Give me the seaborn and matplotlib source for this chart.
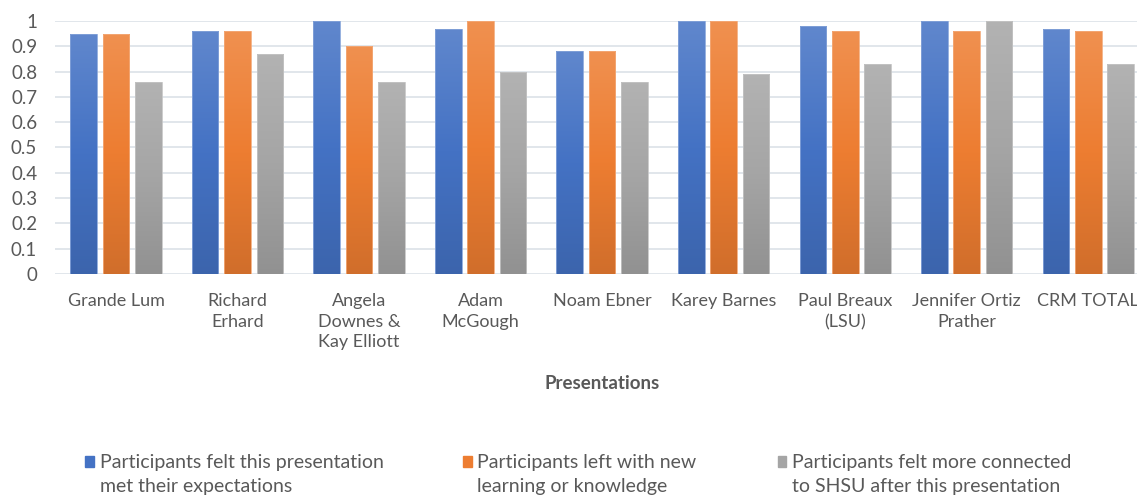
import numpy as np
import pandas as pd
import matplotlib.pyplot as plt
import matplotlib.colors as mcolors
from matplotlib.patches import Rectangle
from matplotlib.legend_handler import HandlerPatch
import seaborn as sns

# Presenters and survey share per question
presenters = ["Grande Lum", "Richard\nErhard", "Angela\nDownes &\nKay Elliott", "Adam\nMcGough",
              "Noam Ebner", "Karey Barnes", "Paul Breaux\n(LSU)", "Jennifer Ortiz\nPrather", "CRM TOTAL"]
met_expectations = [0.95, 0.96, 1.00, 0.97, 0.88, 1.00, 0.98, 1.00, 0.97]
new_learning = [0.95, 0.96, 0.90, 1.00, 0.88, 1.00, 0.96, 0.96, 0.96]
more_connected = [0.76, 0.87, 0.76, 0.80, 0.76, 0.79, 0.83, 1.00, 0.83]
series_names = ["Participants felt this presentation\nmet their expectations",
                "Participants left with new\nlearning or knowledge",
                "Participants felt more connected\nto SHSU after this presentation"]
colors = ["#4472C4", "#ED7D31", "#A5A5A5"]

df = pd.DataFrame({
    "Presenter": presenters * 3,
    "Series": np.repeat(series_names, len(presenters)),
    "Value": met_expectations + new_learning + more_connected,
})

sns.set_style("white")
plt.rcParams["font.family"] = ["Lato", "DejaVu Sans"]
txt = "#595959"

fig = plt.figure(figsize=(11.37, 4.98), dpi=100)
ax = fig.add_axes([0.0486, 0.450, 0.962, 0.508])

sns.barplot(data=df, x="Presenter", y="Value", hue="Series", palette=colors,
            width=0.8, gap=0.18, ax=ax, legend=True)

# Excel-like vertical gradient on each bar
grad = np.linspace(0, 1, 256).reshape(-1, 1)
for container, c in zip(ax.containers, colors):
    base = np.array(mcolors.to_rgb(c))
    top = base + (1 - base) * 0.15
    bottom = base * 0.88
    cmap = mcolors.LinearSegmentedColormap.from_list("g", [bottom, base, top])
    for bar in container:
        x0, y0 = bar.get_x(), bar.get_y()
        w, h = bar.get_width(), bar.get_height()
        bar.set_facecolor("none")
        bar.set_edgecolor(mcolors.to_hex(base + (1 - base) * 0.35))
        bar.set_linewidth(0.6)
        im = ax.imshow(grad, extent=[x0, x0 + w, y0, y0 + h], origin="lower",
                       cmap=cmap, aspect="auto", zorder=bar.get_zorder() - 0.1)
        im.set_clip_path(bar)

ax.set_xlim(-0.5, len(presenters) - 0.5)
ax.set_ylim(0, 1)
ax.set_yticks(np.arange(0, 1.01, 0.1))
ax.set_yticklabels(["0", "0.1", "0.2", "0.3", "0.4", "0.5", "0.6", "0.7", "0.8", "0.9", "1"])
ax.yaxis.grid(True, color="#DCE1E8", linewidth=1.2)
ax.set_axisbelow(True)
for s in ax.spines.values():
    s.set_visible(False)
ax.tick_params(axis="y", length=0, labelsize=13.5, colors=txt, pad=13)
ax.tick_params(axis="x", length=0, labelsize=13, colors=txt, pad=14)
for lbl in ax.get_xticklabels():
    lbl.set_linespacing(1.35)
ax.set_ylabel("")
ax.set_xlabel("Presentations", fontsize=13.5, fontweight="bold", color=txt, labelpad=18)


# legend square sits on the first text line, as in Excel
def top_square(legend, orig_handle, xdescent, ydescent, width, height, fontsize):
    return Rectangle((-xdescent, -ydescent + 9.5), width, height)


handles, labels = ax.get_legend_handles_labels()
ax.get_legend().remove()
for h, lab, c, xpos in zip(handles, labels, colors, [0.075, 0.407, 0.684]):
    leg = fig.legend([h], [lab], loc="upper left", bbox_to_anchor=(xpos, 0.089),
                     frameon=False, fontsize=14, handlelength=0.45, handleheight=0.45,
                     handletextpad=0.3, borderpad=0, borderaxespad=0, labelcolor=txt,
                     handler_map={h: HandlerPatch(patch_func=top_square)})
    for t in leg.get_texts():
        t.set_linespacing(1.55)
    leg.legend_handles[0].set_facecolor(c)
    leg.legend_handles[0].set_edgecolor(c)

fig.savefig("out.png", dpi=100)
